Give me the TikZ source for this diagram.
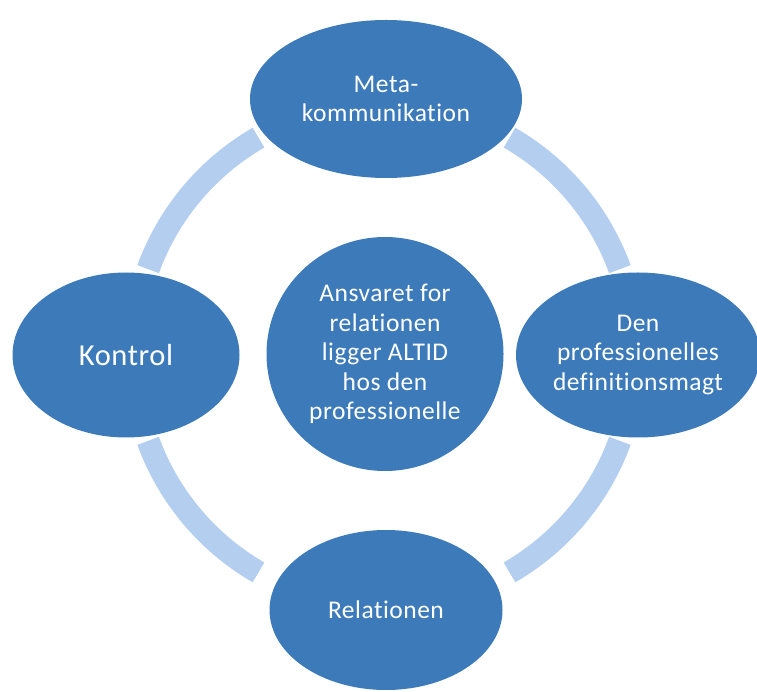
\documentclass[tikz,border=0pt]{standalone}
\usepackage{fontspec}
\setmainfont{Carlito}[Ligatures=NoCommon, LetterSpace=2]
\usetikzlibrary{shapes.geometric}
\definecolor{darkblue}{RGB}{60,122,186}
\definecolor{ringblue}{RGB}{180,206,240}
\begin{document}
\begin{tikzpicture}[x=1pt,y=1pt,
  bubble/.style={ellipse, fill=darkblue, draw=none, inner sep=0pt, text=white, align=center,
    font=\fontsize{25.5}{29.5}\selectfont},
  ringarc/.style={draw=ringblue, line width=23pt, line cap=butt}]
\useasboundingbox (0,0) rectangle (757,691);
\coordinate (ring) at (384,336);
\draw[ringarc] ([shift={(ring)}]120:251pt) arc[start angle=120, end angle=160, radius=251pt];
\draw[ringarc] ([shift={(ring)}]20:251pt) arc[start angle=20, end angle=60, radius=251pt];
\draw[ringarc] ([shift={(ring)}]200:251pt) arc[start angle=200, end angle=240, radius=251pt];
\draw[ringarc] ([shift={(ring)}]300:251pt) arc[start angle=300, end angle=340, radius=251pt];
\node[bubble, minimum width=272pt, minimum height=158pt] (meta) at (386,592) {Meta-\\kommunikation};
\node[bubble, minimum width=227pt, minimum height=165pt, font=\fontsize{30.5}{34}\selectfont] (kontrol) at (126,336) {Kontrol};
\node[bubble, minimum width=244pt, minimum height=165pt] (def) at (638,336) {Den\\professionelles\\definitionsmagt};
\node[bubble, minimum width=233pt, minimum height=160pt] (rel) at (386,81) {Relationen};
\node[bubble, minimum width=237pt, minimum height=234pt] (center) at (385,337) {Ansvaret for\\relationen\\ligger ALTID\\hos den\\professionelle};
\end{tikzpicture}
\end{document}
